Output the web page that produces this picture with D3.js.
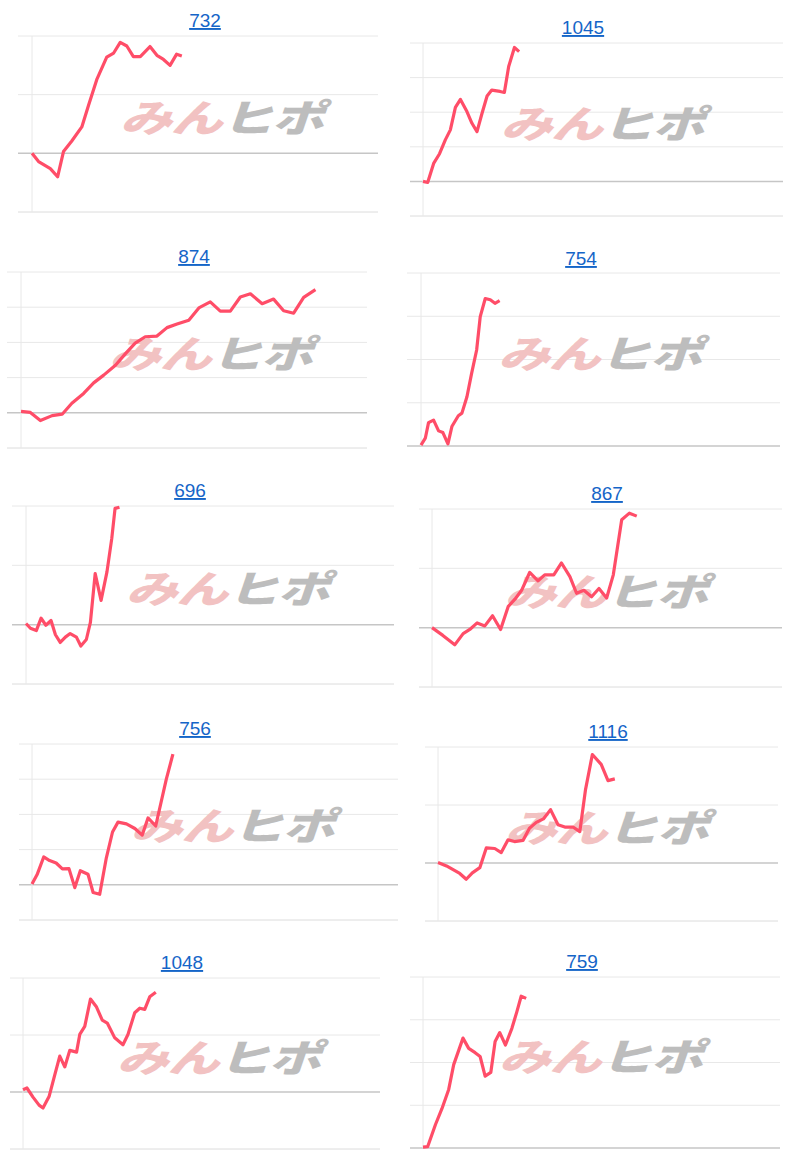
<!DOCTYPE html>
<html>
<head>
<meta charset="utf-8">
<script src="https://cdn.jsdelivr.net/npm/d3@7"></script>
<style>
  body { margin: 0; background: #fff; }
  svg { display: block; }
</style>
</head>
<body>
<script>
// panel titles
var titles = ["732", "1045", "874", "754", "696", "867", "756", "1116", "1048", "759"];

// gridline values per panel (10 units per gridline, 0 = base line)
var ticks = [
  [-10, 0, 10, 20],
  [-10, 0, 10, 20, 30, 40],
  [-10, 0, 10, 20, 30, 40],
  [0, 10, 20, 30, 40],
  [-10, 0, 10, 20],
  [-10, 0, 10, 20],
  [-10, 0, 10, 20, 30, 40],
  [-10, 0, 10, 20],
  [-10, 0, 10, 20],
  [0, 10, 20, 30, 40]
];

// x position of each point, in % of the period
var xs = [
  [0, 1.9, 5.3, 7.4, 9.1, 11.5, 14.4, 16.3, 18.8, 21.6, 23.6, 25.5, 27.4, 29.3, 31.3, 34.1, 36.1, 38, 39.9, 41.8, 43.3],
  [0, 1.3, 3.0, 4.6, 6.2, 7.6, 9.0, 10.4, 12.2, 13.6, 15.0, 16.4, 17.8, 19.1, 21.4, 22.6, 23.8, 25.4, 26.7],
  [0, 2.7, 5.6, 9.0, 11.9, 14.7, 18.1, 21.0, 23.9, 27.3, 30.2, 33.0, 35.9, 39.3, 42.2, 45.1, 48.5, 51.4, 54.7, 57.6, 60.5, 63.4, 66.3, 69.7, 73.0, 75.9, 78.8, 81.7, 85.1],
  [0, 1.2, 2.1, 3.5, 4.9, 6.1, 7.5, 8.6, 10.4, 11.4, 12.8, 14.1, 15.5, 16.5, 17.9, 19.3, 20.6, 21.9],
  [0, 1.2, 2.8, 4.1, 5.4, 6.8, 8.0, 9.3, 10.7, 12.0, 13.7, 14.9, 16.4, 17.5, 18.8, 20.4, 22.0, 23.3, 24.2, 25.4],
  [0, 3.1, 6.5, 8.9, 10.8, 12.9, 15.1, 17.3, 19.6, 21.8, 23.7, 25.6, 27.9, 30.3, 32.2, 34.8, 37.0, 39.4, 41.3, 43.4, 45.6, 47.7, 49.9, 51.8, 54.2, 56.4, 58.5],
  [0, 1.4, 3.2, 4.8, 6.6, 8.3, 10.1, 11.7, 13.2, 15.3, 16.7, 18.5, 20.3, 22.0, 23.5, 25.8, 28.1, 30.1, 31.7, 33.8, 36.7, 38.5],
  [0, 2.5, 6.4, 8.3, 10.1, 12.3, 14.2, 16.7, 18.6, 20.6, 22.5, 25.0, 26.9, 28.9, 31.0, 33.1, 35.3, 37.3, 39.7, 41.7, 43.4, 45.4, 48.0, 50.0, 52.0],
  [0, 1.1, 2.8, 4.5, 5.6, 7.3, 8.9, 10.3, 11.7, 13.1, 15.0, 15.9, 17.3, 18.9, 20.6, 22.2, 23.6, 25.7, 28.0, 29.4, 31.3, 32.7, 34.1, 35.5, 37.2],
  [0, 1.3, 3.5, 5.3, 7.2, 8.6, 11.2, 12.8, 14.6, 16.0, 17.4, 19.0, 20.2, 21.5, 23.1, 24.9, 26.3, 27.5, 28.9]
];

// series values
var values = [
  [0, -1.4, -2.6, -4.0, 0.3, 2.1, 4.5, 8.1, 12.7, 16.4, 17.1, 18.9, 18.3, 16.5, 16.5, 18.2, 16.7, 16.0, 15.0, 16.9, 16.6],
  [0, -0.3, 5.3, 8.0, 12.0, 14.9, 21.4, 23.7, 20.2, 16.8, 14.4, 19.7, 24.7, 26.4, 26.0, 25.7, 33.2, 38.7, 37.5],
  [0.4, 0.1, -2.2, -0.8, -0.4, 2.7, 5.5, 8.5, 10.7, 13.5, 16.8, 19.8, 21.6, 21.8, 24.2, 25.2, 26.3, 29.8, 31.5, 28.9, 28.9, 32.9, 33.8, 31.0, 32.3, 29.0, 28.3, 32.8, 35.0],
  [0.2, 1.8, 5.4, 6.0, 3.5, 3.1, 0.5, 4.5, 7.0, 7.6, 11.4, 16.8, 22.2, 29.9, 34.1, 33.8, 33.0, 33.6],
  [0.2, -0.6, -1.0, 1.1, -0.1, 0.7, -1.7, -3.0, -2.1, -1.5, -2.1, -3.6, -2.5, 0.4, 8.6, 4.1, 8.9, 14.5, 19.6, 19.8],
  [0, -1.3, -2.9, -1.0, -0.3, 0.8, 0.3, 2.0, -0.3, 3.6, 4.8, 6.3, 9.3, 7.9, 8.9, 8.9, 10.9, 8.6, 5.8, 6.3, 5.2, 6.6, 5.0, 8.9, 18.2, 19.3, 18.8],
  [0.2, 2.9, 7.9, 6.9, 6.2, 4.5, 4.6, -0.8, 4.0, 3.0, -2.2, -2.7, 7.6, 15.0, 17.8, 17.3, 16.0, 14.1, 19.0, 16.7, 30.0, 37.1],
  [0.1, -0.5, -1.8, -2.8, -1.7, -0.8, 2.6, 2.5, 1.8, 4.0, 3.7, 3.9, 6.0, 7.0, 7.6, 9.2, 6.6, 6.2, 6.2, 5.4, 12.7, 18.7, 17.0, 14.2, 14.5],
  [0.4, 0.7, -0.9, -2.3, -2.8, -0.8, 3.0, 6.3, 4.4, 7.3, 7.0, 10.1, 11.5, 16.3, 14.9, 12.6, 12.1, 9.5, 8.3, 10.1, 13.9, 14.7, 14.5, 16.7, 17.5],
  [0.2, 0.3, 5.5, 9.2, 13.7, 19.5, 25.7, 23.3, 22.3, 21.4, 16.8, 17.7, 24.9, 27.0, 24.1, 28.0, 31.9, 35.5, 35.0]
];

// layout of each panel on the page
var frames = [
  {g: 18, a: 32, r: 378, t: 36, b: 212, tx: 205, ty: 27},
  {g: 410, a: 423, r: 783, t: 43, b: 216, tx: 583, ty: 34},
  {g: 7, a: 21, r: 367, t: 272, b: 448, tx: 194, ty: 263},
  {g: 407, a: 421, r: 780, t: 273, b: 446, tx: 581, ty: 265},
  {g: 12, a: 26, r: 394, t: 506, b: 684, tx: 190, ty: 497},
  {g: 419, a: 432, r: 782, t: 509, b: 687, tx: 607, ty: 500},
  {g: 19, a: 32, r: 398, t: 744, b: 920, tx: 195, ty: 735},
  {g: 425, a: 438, r: 778, t: 747, b: 921, tx: 608, ty: 738},
  {g: 10, a: 23, r: 380, t: 978, b: 1149, tx: 182, ty: 969},
  {g: 410, a: 423, r: 780, t: 977, b: 1148, tx: 582, ty: 968}
];

var svg = d3.select("body").append("svg")
  .attr("width", 800)
  .attr("height", 1166);

frames.forEach(function (f, i) {
  var g = svg.append("g");
  var tk = ticks[i];
  var y = d3.scaleLinear().domain(d3.extent(tk)).range([f.b, f.t]);
  var x = d3.scaleLinear().domain([0, 100]).range([f.a, f.r]);

  // gridlines
  g.selectAll("line.grid").data(tk).enter().append("line")
    .attr("x1", f.g).attr("x2", f.r)
    .attr("y1", function (d) { return y(d); })
    .attr("y2", function (d) { return y(d); })
    .attr("stroke", function (d) { return d === 0 ? "#c6c6c6" : (d === tk[0] ? "#dcdcdc" : "#e8e8e8"); })
    .attr("stroke-width", function (d) { return d === 0 ? 1.5 : 1; });

  g.append("line")
    .attr("x1", f.a).attr("x2", f.a)
    .attr("y1", f.t).attr("y2", f.b)
    .attr("stroke", "#e8e8e8");

  // watermark
  var wx = f.a + (f.r - f.a) * 0.53 + (i % 2 ? -12 : 6), wy = (f.t + f.b) / 2 + 8;
  var wm = g.append("text")
    .attr("transform", "translate(" + wx + "," + wy + ") scale(1.3,0.95) skewX(-14)")
    .attr("text-anchor", "middle")
    .attr("font-family", "'Noto Sans CJK JP', sans-serif")
    .attr("font-weight", 900)
    .attr("letter-spacing", -1)
    .attr("font-size", 40);
  wm.append("tspan").attr("fill", "#f2c2c2").text("みん");
  wm.append("tspan").attr("fill", "#bdbdbd").text("ヒポ");

  // line
  var pts = xs[i].map(function (d, j) { return [d, values[i][j]]; });
  g.append("path")
    .datum(pts)
    .attr("fill", "none")
    .attr("stroke", "#ff4d68")
    .attr("stroke-width", 3.2)
    .attr("stroke-linejoin", "round")
    .attr("d", d3.line()
      .x(function (d) { return x(d[0]); })
      .y(function (d) { return y(d[1]); }));

  // title link
  g.append("text")
    .attr("x", f.tx).attr("y", f.ty)
    .attr("text-anchor", "middle")
    .attr("font-family", "'Liberation Sans', Arial, sans-serif")
    .attr("font-size", 19)
    .attr("fill", "#1565c8")
    .attr("text-decoration", "underline")
    .text(titles[i]);
});
</script>
</body>
</html>
